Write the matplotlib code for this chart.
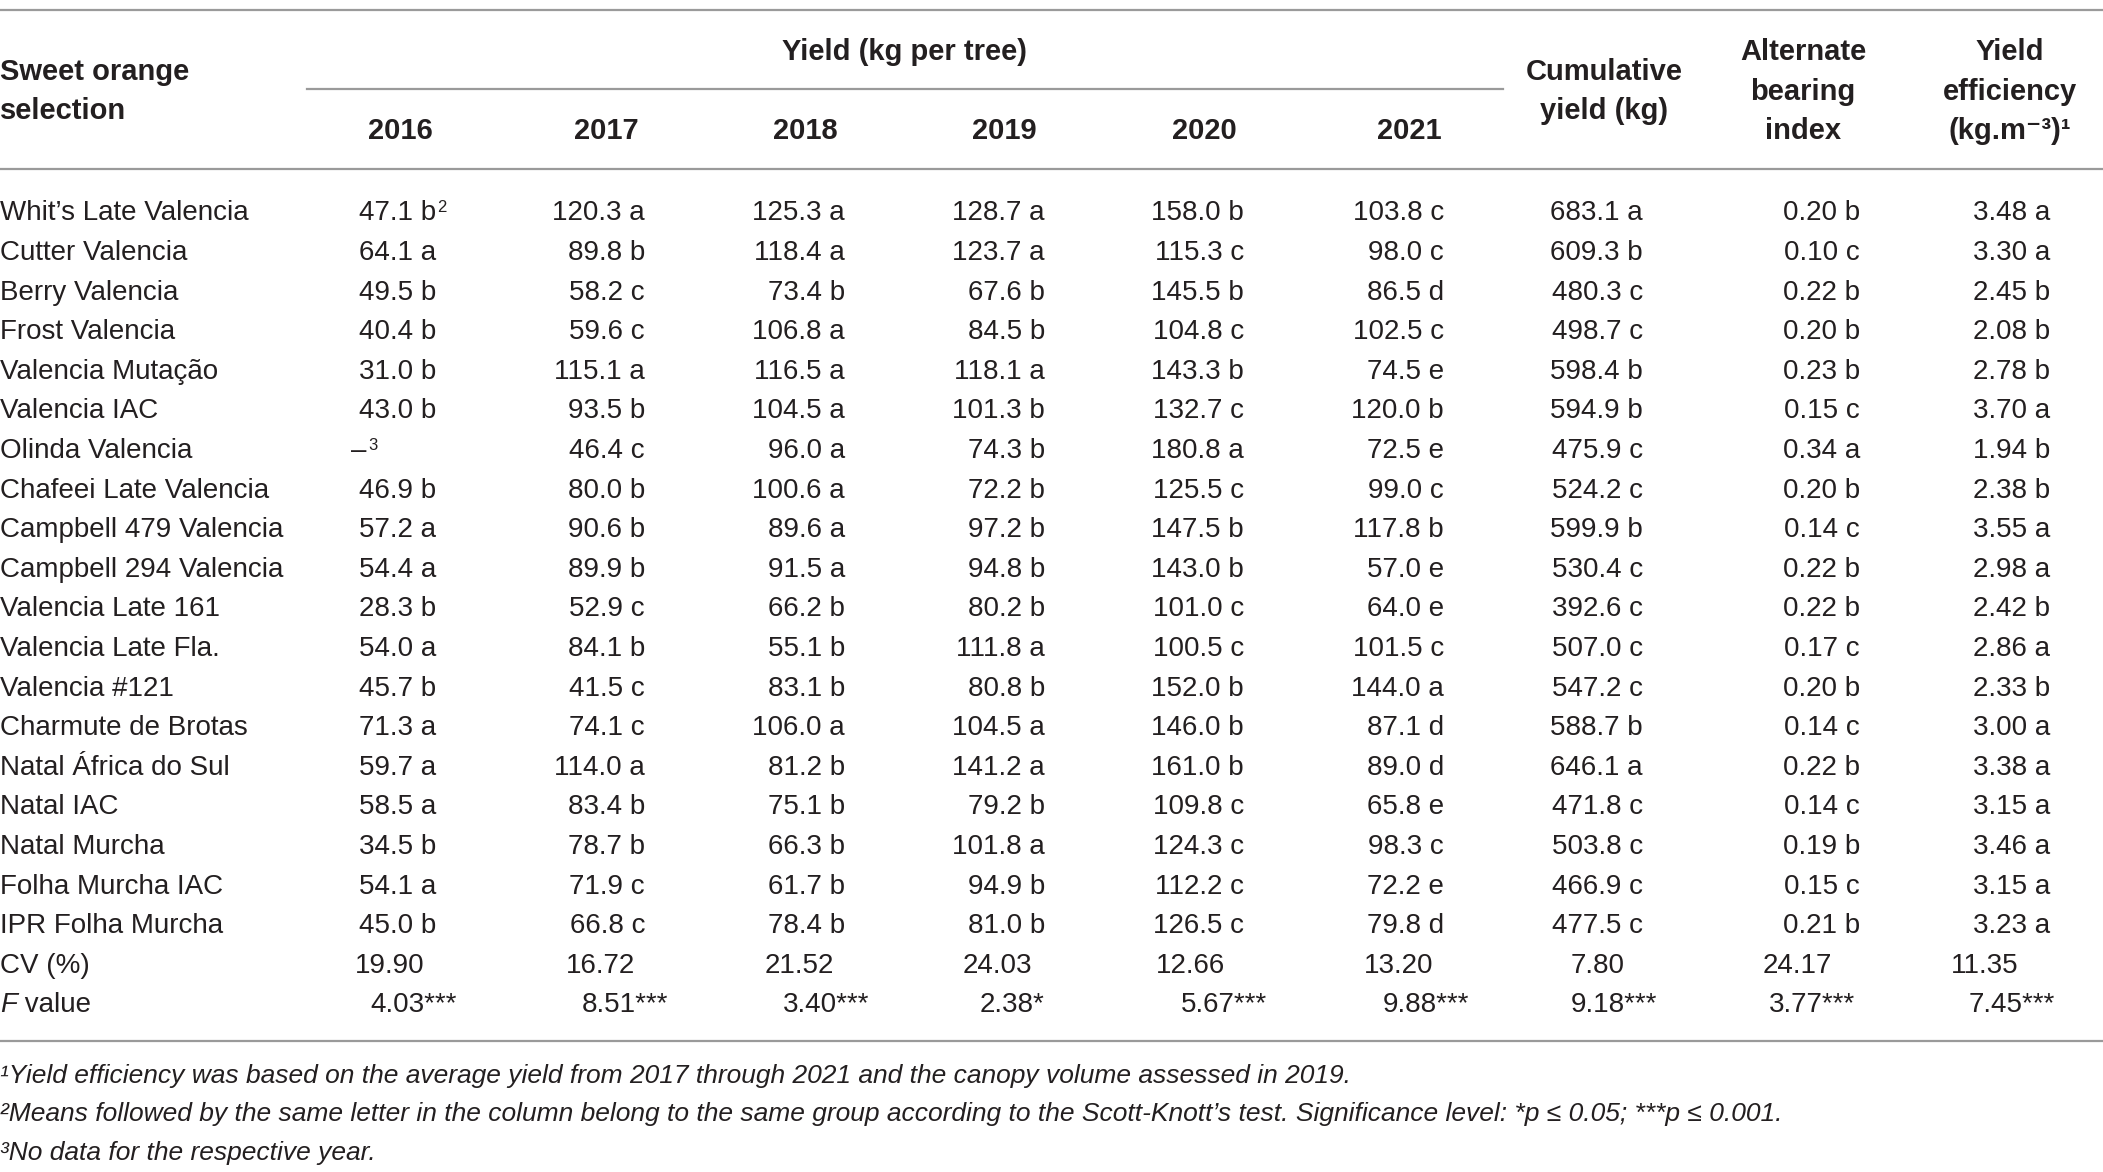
import matplotlib.pyplot as plt

# Table 2 data: yield per tree of sweet orange selections
selections = [
    "Whit\u2019s Late Valencia", "Cutter Valencia", "Berry Valencia", "Frost Valencia",
    "Valencia Muta\u00e7\u00e3o", "Valencia IAC", "Olinda Valencia", "Chafeei Late Valencia",
    "Campbell 479 Valencia", "Campbell 294 Valencia", "Valencia Late 161",
    "Valencia Late Fla.", "Valencia #121", "Charmute de Brotas",
    "Natal \u00c1frica do Sul", "Natal IAC", "Natal Murcha", "Folha Murcha IAC",
    "IPR Folha Murcha",
]

y2016 = [47.1, 64.1, 49.5, 40.4, 31.0, 43.0, None, 46.9, 57.2, 54.4, 28.3, 54.0, 45.7, 71.3, 59.7, 58.5, 34.5, 54.1, 45.0]
g2016 = "b a b b b b - b a a b a b a a a b a b".split()
y2017 = [120.3, 89.8, 58.2, 59.6, 115.1, 93.5, 46.4, 80.0, 90.6, 89.9, 52.9, 84.1, 41.5, 74.1, 114.0, 83.4, 78.7, 71.9, 66.8]
g2017 = "a b c c a b c b b b c b c c a b b c c".split()
y2018 = [125.3, 118.4, 73.4, 106.8, 116.5, 104.5, 96.0, 100.6, 89.6, 91.5, 66.2, 55.1, 83.1, 106.0, 81.2, 75.1, 66.3, 61.7, 78.4]
g2018 = "a a b a a a a a a a b b b a b b b b b".split()
y2019 = [128.7, 123.7, 67.6, 84.5, 118.1, 101.3, 74.3, 72.2, 97.2, 94.8, 80.2, 111.8, 80.8, 104.5, 141.2, 79.2, 101.8, 94.9, 81.0]
g2019 = "a a b b a b b b b b b a b a a b a b b".split()
y2020 = [158.0, 115.3, 145.5, 104.8, 143.3, 132.7, 180.8, 125.5, 147.5, 143.0, 101.0, 100.5, 152.0, 146.0, 161.0, 109.8, 124.3, 112.2, 126.5]
g2020 = "b c b c b c a c b b c c b b b c c c c".split()
y2021 = [103.8, 98.0, 86.5, 102.5, 74.5, 120.0, 72.5, 99.0, 117.8, 57.0, 64.0, 101.5, 144.0, 87.1, 89.0, 65.8, 98.3, 72.2, 79.8]
g2021 = "c c d c e b e c b e e c a d d e c e d".split()
cumulative = [683.1, 609.3, 480.3, 498.7, 598.4, 594.9, 475.9, 524.2, 599.9, 530.4, 392.6, 507.0, 547.2, 588.7, 646.1, 471.8, 503.8, 466.9, 477.5]
g_cum = "a b c c b b c c b c c c c b a c c c c".split()
alt_bearing = [0.20, 0.10, 0.22, 0.20, 0.23, 0.15, 0.34, 0.20, 0.14, 0.22, 0.22, 0.17, 0.20, 0.14, 0.22, 0.14, 0.19, 0.15, 0.21]
g_alt = "b c b b b c a b c b b c b c b c b c b".split()
efficiency = [3.48, 3.30, 2.45, 2.08, 2.78, 3.70, 1.94, 2.38, 3.55, 2.98, 2.42, 2.86, 2.33, 3.00, 3.38, 3.15, 3.46, 3.15, 3.23]
g_eff = "a a b b b a b b a a b a b a a a a a a".split()

cv = [19.90, 16.72, 21.52, 24.03, 12.66, 13.20, 7.80, 24.17, 11.35]
f_values = [4.03, 8.51, 3.40, 2.38, 5.67, 9.88, 9.18, 3.77, 7.45]
f_stars = ["***", "***", "***", "*", "***", "***", "***", "***", "***"]

years = ["2016", "2017", "2018", "2019", "2020", "2021"]

columns = [(y2016, g2016, 1), (y2017, g2017, 1), (y2018, g2018, 1), (y2019, g2019, 1),
           (y2020, g2020, 1), (y2021, g2021, 1), (cumulative, g_cum, 1),
           (alt_bearing, g_alt, 2), (efficiency, g_eff, 2)]

footnotes = [
    "\u00b9Yield efficiency was based on the average yield from 2017 through 2021 and the canopy volume assessed in 2019.",
    "\u00b2Means followed by the same letter in the column belong to the same group according to the Scott-Knott\u2019s test. "
    "Significance level: *p \u2264 0.05; ***p \u2264 0.001.",
    "\u00b3No data for the respective year.",
]

# layout (pixel space)
W, H = 2103, 1172
right_edge = [436, 645, 845, 1045, 1244, 1444, 1643, 1860, 2050]
cv_left = [355, 566, 765, 963, 1156, 1364, 1571, 1763, 1951]
f_left = [370, 582, 783, 980, 1181, 1383, 1571, 1769, 1969]
year_x = [400, 606, 805, 1004, 1204, 1409]
row0, row_step = 210.5, 39.6
base = 10  # baseline offset below visual center
FAM = ["Liberation Sans", "DejaVu Sans"]
TXT = "#231f20"
LINE = "#9a9a9a"
FS = 20
HFS = 21

fig = plt.figure(figsize=(W / 100, H / 100), dpi=100)
ax = fig.add_axes([0, 0, 1, 1])
ax.set_xlim(0, W)
ax.set_ylim(H, 0)
ax.axis("off")

def put(x, y, s, ha="left", weight="normal", style="normal", size=FS):
    return ax.text(x, y + base, s, ha=ha, va="baseline", fontsize=size, family=FAM,
                   weight=weight, style=style, color=TXT)

def head(x, y, s, ha="center"):
    return put(x, y, s, ha=ha, weight="bold", size=HFS)

# rules
ax.plot([0, W], [9.5, 9.5], color=LINE, lw=1.6)
ax.plot([307, 1503], [88.5, 88.5], color=LINE, lw=1.6)
ax.plot([0, W], [169, 169], color=LINE, lw=1.6)
ax.plot([0, W], [1041, 1041], color=LINE, lw=1.6)

# header
head(0, 70, "Sweet orange", ha="left")
head(0, 109, "selection", ha="left")
head(905, 50, "Yield (kg per tree)")
for x, yr in zip(year_x, years):
    head(x, 129, yr)
head(1604, 70, "Cumulative")
head(1604, 109, "yield (kg)")
head(1803, 50, "Alternate")
head(1803, 90, "bearing")
head(1803, 129, "index")
head(2010, 50, "Yield")
head(2010, 90, "efficiency")
head(2010, 129, "(kg.m\u207b\u00b3)\u00b9")

# body rows
for i, name in enumerate(selections):
    y = row0 + i * row_step
    put(0, y, name)
    for j, (vals, grp, dec) in enumerate(columns):
        v = vals[i]
        if v is None:
            t = put(cv_left[j] - 4, y, "\u2013")
            ax.annotate("3", xy=(1, 1), xycoords=t, xytext=(1, 0), textcoords="offset points",
                        ha="left", va="top", fontsize=12, family=FAM, color=TXT)
            continue
        t = put(right_edge[j], y, f"{v:.{dec}f} {grp[i]}", ha="right")
        if i == 0 and j == 0:
            ax.annotate("2", xy=(1, 1), xycoords=t, xytext=(1, 0), textcoords="offset points",
                        ha="left", va="top", fontsize=12, family=FAM, color=TXT)

# CV and F rows
y_cv = row0 + len(selections) * row_step
y_f = y_cv + row_step
put(0, y_cv, "CV (%)")
tf = put(0, y_f, "F", style="italic")
ax.annotate(" value", xy=(1, 0), xycoords=tf, ha="left", va="bottom", fontsize=FS,
            family=FAM, color=TXT)
for j in range(len(cv)):
    put(cv_left[j], y_cv, f"{cv[j]:.2f}")
    put(f_left[j], y_f, f"{f_values[j]:.2f}{f_stars[j]}")

# footnotes
for k, note in enumerate(footnotes):
    put(0, 1073 + k * 38.5, note, style="italic", size=19)

fig.savefig("out.png", dpi=100)
